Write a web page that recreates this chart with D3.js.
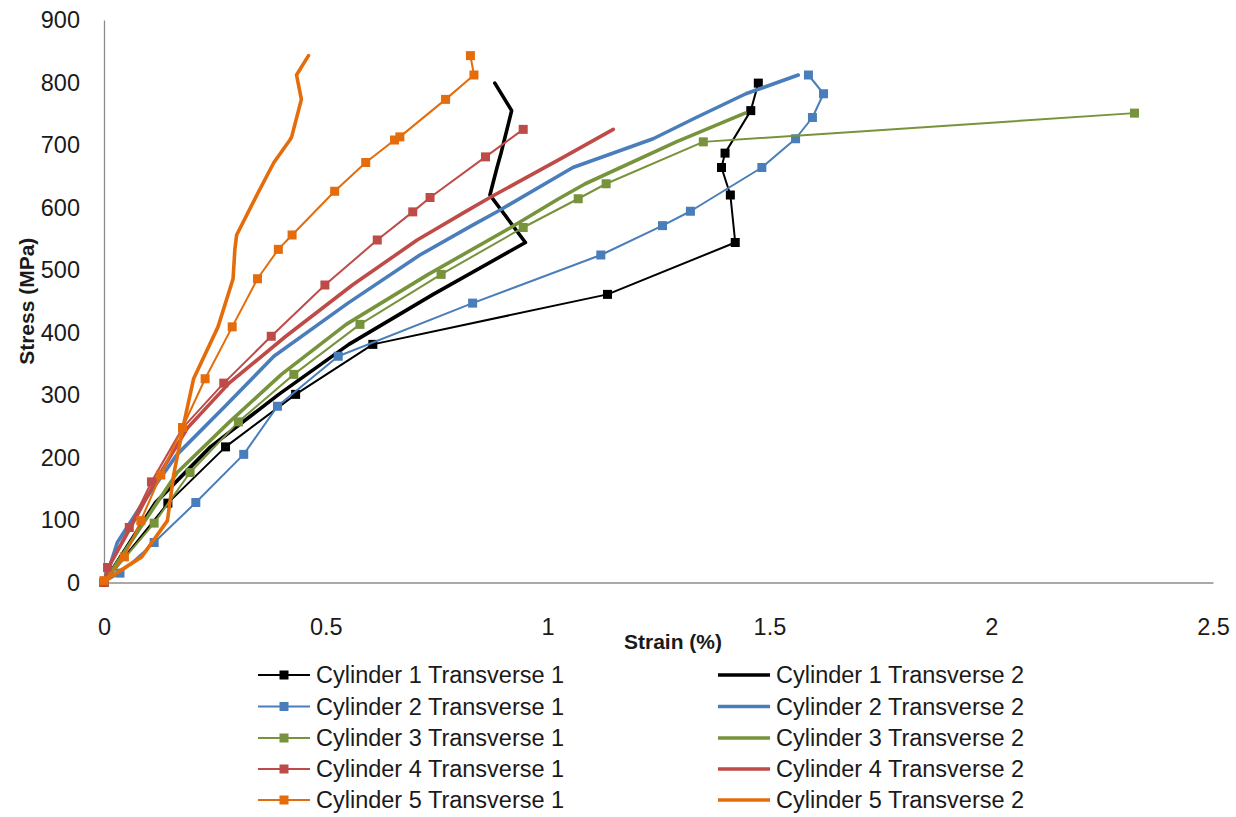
<!DOCTYPE html>
<html>
<head>
<meta charset="utf-8">
<script src="https://cdn.jsdelivr.net/npm/d3@7"></script>
<style>
  html, body { margin: 0; padding: 0; background: #fff; }
  svg { display: block; font-family: "Liberation Sans", Arial, sans-serif; }
</style>
</head>
<body>
<svg id="chart" width="1236" height="817"></svg>
<script>
// Stress levels (MPa) recorded for each cylinder, shared by both transverse gauges
const stress1 = [0, 127, 217, 301, 381, 461, 544, 620, 664, 687, 755, 799];
const stress2 = [0, 15, 64, 128, 205, 282, 362, 447, 524, 571, 594, 664, 710, 744, 782, 812];
const stress3 = [0, 95, 176, 257, 333, 413, 493, 568, 614, 638, 705, 751];
const stress4 = [0, 24, 88, 161, 247, 319, 394, 476, 548, 593, 616, 681, 725];
const stress5 = [3, 41, 99, 172, 248, 326, 409, 486, 533, 556, 626, 672, 708, 713, 773, 812, 843];

// Transverse strain (%) - gauge 1
const strainC1T1 = [0, 0.144, 0.274, 0.432, 0.606, 1.135, 1.423, 1.412, 1.392, 1.400, 1.458, 1.475];
const strainC2T1 = [0, 0.036, 0.113, 0.207, 0.315, 0.391, 0.528, 0.831, 1.120, 1.259, 1.322, 1.483, 1.559, 1.597, 1.622, 1.588];
const strainC3T1 = [0, 0.113, 0.194, 0.303, 0.428, 0.577, 0.760, 0.945, 1.069, 1.132, 1.351, 2.323];
const strainC4T1 = [0, 0.008, 0.057, 0.107, 0.177, 0.270, 0.377, 0.498, 0.616, 0.696, 0.735, 0.860, 0.945];
const strainC5T1 = [0, 0.046, 0.083, 0.128, 0.177, 0.228, 0.289, 0.346, 0.393, 0.424, 0.520, 0.590, 0.655, 0.667, 0.770, 0.834, 0.826];

// Transverse strain (%) - gauge 2
const strainC1T2 = [0, 0.115, 0.240, 0.394, 0.552, 0.742, 0.950, 0.870, 0.886, 0.895, 0.919, 0.881];
const strainC2T2 = [0, 0.008, 0.030, 0.088, 0.165, 0.273, 0.383, 0.550, 0.712, 0.829, 0.888, 1.057, 1.238, 1.335, 1.447, 1.565];
const strainC3T2 = [0, 0.089, 0.165, 0.283, 0.400, 0.546, 0.731, 0.917, 1.025, 1.085, 1.290, 1.445];
const strainC4T2 = [0, 0.010, 0.060, 0.115, 0.188, 0.282, 0.410, 0.560, 0.706, 0.814, 0.870, 1.037, 1.148];
const strainC5T2 = [0.002, 0.085, 0.143, 0.157, 0.178, 0.202, 0.257, 0.291, 0.295, 0.299, 0.349, 0.383, 0.419, 0.423, 0.445, 0.434, 0.461];

const xTicks = [0, 0.5, 1, 1.5, 2, 2.5];
const xTickLabels = ["0", "0.5", "1", "1.5", "2", "2.5"];
const yTicks = [0, 100, 200, 300, 400, 500, 600, 700, 800, 900];

const cylinderColors = ["#000000", "#4A7EBB", "#77933C", "#BE4B48", "#E46C0A"];

// Series in drawing / legend order
const series = [
  { name: "Cylinder 1 Transverse 1", x: strainC1T1, y: stress1, color: cylinderColors[0], markers: true },
  { name: "Cylinder 1 Transverse 2", x: strainC1T2, y: stress1, color: cylinderColors[0], markers: false },
  { name: "Cylinder 2 Transverse 1", x: strainC2T1, y: stress2, color: cylinderColors[1], markers: true },
  { name: "Cylinder 2 Transverse 2", x: strainC2T2, y: stress2, color: cylinderColors[1], markers: false },
  { name: "Cylinder 3 Transverse 1", x: strainC3T1, y: stress3, color: cylinderColors[2], markers: true },
  { name: "Cylinder 3 Transverse 2", x: strainC3T2, y: stress3, color: cylinderColors[2], markers: false },
  { name: "Cylinder 4 Transverse 1", x: strainC4T1, y: stress4, color: cylinderColors[3], markers: true },
  { name: "Cylinder 4 Transverse 2", x: strainC4T2, y: stress4, color: cylinderColors[3], markers: false },
  { name: "Cylinder 5 Transverse 1", x: strainC5T1, y: stress5, color: cylinderColors[4], markers: true },
  { name: "Cylinder 5 Transverse 2", x: strainC5T2, y: stress5, color: cylinderColors[4], markers: false }
];

const svg = d3.select("#chart");
const FONT = 23.5;
const thinW = 2, thickW = 3.6, markerSize = 9;

const x = d3.scaleLinear().domain([0, 2.5]).range([104, 1213]);
const y = d3.scaleLinear().domain([0, 900]).range([582.5, 20]);

// Axes
const xAxis = d3.axisBottom(x).tickValues(xTicks)
  .tickFormat((d, i) => xTickLabels[i]).tickSize(0).tickPadding(36);
const yAxis = d3.axisLeft(y).tickValues(yTicks)
  .tickFormat(d3.format("d")).tickSize(0).tickPadding(24);

const gx = svg.append("g").attr("transform", `translate(0,${y(0)})`).call(xAxis);
const gy = svg.append("g").attr("transform", `translate(${x(0)},0)`).call(yAxis);
[gx, gy].forEach(g => {
  g.select(".domain").attr("stroke", "#8c8c8c").attr("stroke-width", 1.3);
  g.selectAll("text").attr("font-size", FONT).attr("fill", "#1a1a1a")
    .attr("font-family", "'Liberation Sans', Arial, sans-serif");
});

// Axis titles
svg.append("text")
  .attr("x", 673).attr("y", 649)
  .attr("text-anchor", "middle")
  .attr("font-size", 21).attr("font-weight", "bold").attr("fill", "#1a1a1a")
  .text("Strain (%)");
svg.append("text")
  .attr("transform", `translate(34,${(y(0) + y(900)) / 2}) rotate(-90)`)
  .attr("text-anchor", "middle")
  .attr("font-size", 21).attr("font-weight", "bold").attr("fill", "#1a1a1a")
  .text("Stress (MPa)");

// Curves
const line = d3.line().x(d => x(d[0])).y(d => y(d[1]));
const plot = svg.append("g");
series.forEach(s => {
  const pts = s.x.map((v, i) => [v, s.y[i]]);
  const g = plot.append("g");
  g.append("path")
    .attr("d", line(pts))
    .attr("fill", "none")
    .attr("stroke", s.color)
    .attr("stroke-width", s.markers ? thinW : thickW)
    .attr("stroke-linejoin", "round")
    .attr("stroke-linecap", "round");
  if (s.markers) {
    g.selectAll("rect").data(pts).join("rect")
      .attr("x", d => x(d[0]) - markerSize / 2)
      .attr("y", d => y(d[1]) - markerSize / 2)
      .attr("width", markerSize).attr("height", markerSize)
      .attr("fill", s.color);
  }
});

// Legend: two columns, one row per cylinder
const legendRows = [675, 706.5, 738, 769, 800];
const legendCols = [{ x0: 258, x1: 310 }, { x0: 718, x1: 770 }];
series.forEach((s, i) => {
  const col = legendCols[i % 2];
  const ry = legendRows[Math.floor(i / 2)];
  const g = svg.append("g");
  g.append("line")
    .attr("x1", col.x0).attr("x2", col.x1).attr("y1", ry).attr("y2", ry)
    .attr("stroke", s.color).attr("stroke-width", s.markers ? thinW : thickW);
  if (s.markers) {
    const cx = (col.x0 + col.x1) / 2;
    g.append("rect")
      .attr("x", cx - markerSize / 2).attr("y", ry - markerSize / 2)
      .attr("width", markerSize).attr("height", markerSize)
      .attr("fill", s.color);
  }
  g.append("text")
    .attr("x", col.x1 + 6).attr("y", ry)
    .attr("dy", "0.35em")
    .attr("font-size", FONT).attr("fill", "#1a1a1a")
    .text(s.name);
});
</script>
</body>
</html>
